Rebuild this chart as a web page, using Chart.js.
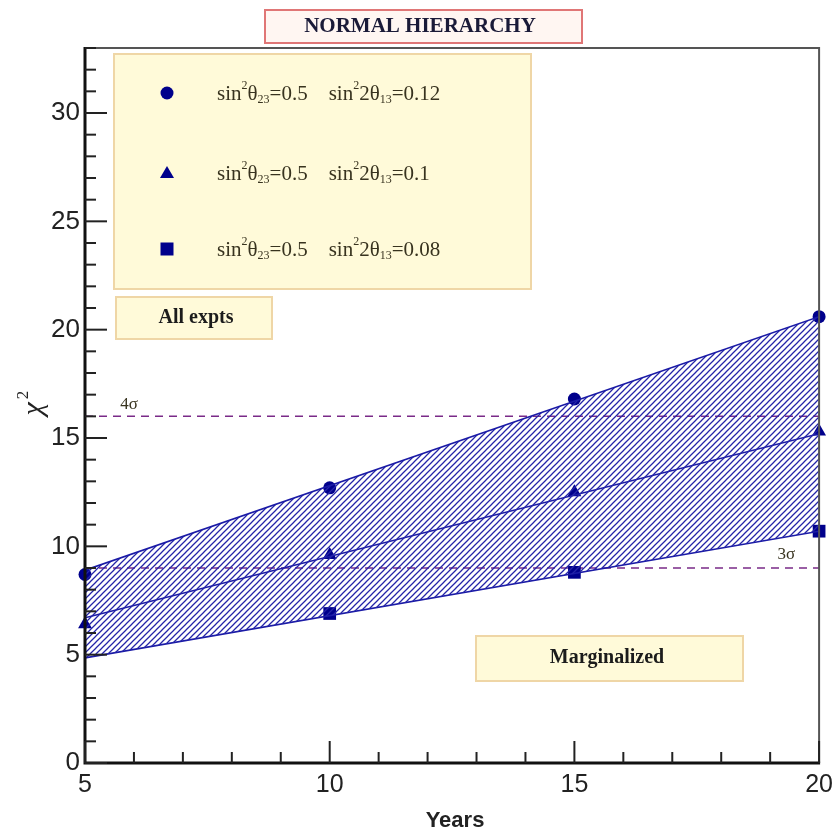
<!DOCTYPE html>
<html>
<head>
<meta charset="utf-8">
<script src="https://cdn.jsdelivr.net/npm/chart.js@4/dist/chart.umd.min.js"></script>
<style>
  html, body { margin: 0; padding: 0; background: #fff; }
  #wrap { width: 840px; height: 835px; }
</style>
</head>
<body>
<div id="wrap"><canvas id="chi2"></canvas></div>
<script>
// exposure in years
const years = [5, 10, 15, 20];

// chi^2 for the three values of sin^2 2theta13
const chi2High = [8.7, 12.7, 16.8, 20.6];
const chi2Mid = [6.4, 9.6, 12.5, 15.3];
const chi2Low = [null, 6.9, 8.8, 10.7];

// straight-line fits through each set
const fitYears = [5, 20];
const fitHigh = [8.9, 20.6];
const fitMid = [6.7, 15.2];
const fitLow = [4.85, 10.7];

// significance levels
const sigmaLevels = [16, 9];
const sigmaLabels = ['4\u03c3', '3\u03c3'];

const legendValues = ['0.12', '0.1', '0.08'];
const yTicks = [0, 5, 10, 15, 20, 25, 30];

const navy = '#00008c';
const lineBlue = '#1a1aa6';
const serif = '"Liberation Serif", "Times New Roman", serif';
const sans = '"Liberation Sans", Arial, sans-serif';

function pts(xs, ys) {
  return xs.map((x, i) => ({ x: x, y: ys[i] }));
}

function hatch() {
  const s = 6;
  const c = document.createElement('canvas');
  c.width = s; c.height = s;
  const g = c.getContext('2d');
  g.strokeStyle = '#2424a8';
  g.lineWidth = 1.25;
  g.beginPath();
  g.moveTo(0, s); g.lineTo(s, 0);
  g.moveTo(-1, 1); g.lineTo(1, -1);
  g.moveTo(s - 1, s + 1); g.lineTo(s + 1, s - 1);
  g.stroke();
  return g.createPattern(c, 'repeat');
}

function box(ctx, x, y, w, h, fill, stroke) {
  ctx.fillStyle = fill;
  ctx.fillRect(x, y, w, h);
  ctx.strokeStyle = stroke;
  ctx.lineWidth = 2;
  ctx.strokeRect(x, y, w, h);
}

// sin^2 theta_23 = 0.5   sin^2 2theta_13 = v
function legendText(ctx, x, y, v) {
  const parts = [
    ['sin', 0, 21], ['2', -8, 12], ['\u03b8', 0, 21], ['23', 6, 12],
    ['=0.5    sin', 0, 21], ['2', -8, 12], ['2\u03b8', 0, 21], ['13', 6, 12],
    ['=' + v, 0, 21]
  ];
  ctx.textAlign = 'left';
  ctx.textBaseline = 'middle';
  ctx.fillStyle = '#38331f';
  let cx = x;
  parts.forEach(p => {
    ctx.font = p[2] + 'px ' + serif;
    ctx.fillText(p[0], cx, y + p[1]);
    cx += ctx.measureText(p[0]).width;
  });
}

function marker(ctx, kind, x, y) {
  ctx.fillStyle = navy;
  ctx.beginPath();
  if (kind === 'circle') {
    ctx.arc(x, y, 6.5, 0, Math.PI * 2);
  } else if (kind === 'triangle') {
    ctx.moveTo(x, y - 7); ctx.lineTo(x + 7, y + 5); ctx.lineTo(x - 7, y + 5);
    ctx.closePath();
  } else {
    ctx.rect(x - 6.5, y - 6.5, 13, 13);
  }
  ctx.fill();
}

const decor = {
  id: 'decor',
  beforeDatasetsDraw(chart) {
    const ctx = chart.ctx;
    const xs = chart.scales.x, ys = chart.scales.y;
    ctx.save();
    box(ctx, 114, 54, 417, 235, '#fffad9', '#efd6a6');
    box(ctx, 116, 297, 156, 42, '#fffad9', '#efd6a6');
    box(ctx, 476, 636, 267, 45, '#fffad9', '#efd6a6');
    ctx.fillStyle = '#1c1c1c';
    ctx.font = 'bold 20px ' + serif;
    ctx.textAlign = 'center';
    ctx.textBaseline = 'middle';
    ctx.fillText('All expts', 196, 318);
    ctx.fillText('Marginalized', 607, 658);
    ['circle', 'triangle', 'square'].forEach((k, i) => {
      const y = [93, 173, 249][i];
      marker(ctx, k, 167, y);
      legendText(ctx, 217, y + 1, legendValues[i]);
    });

    // sigma reference lines
    ctx.strokeStyle = '#7a2a88';
    ctx.lineWidth = 1.5;
    ctx.setLineDash([8, 6]);
    sigmaLevels.forEach(v => {
      const py = ys.getPixelForValue(v);
      ctx.beginPath();
      ctx.moveTo(xs.left, py);
      ctx.lineTo(xs.right, py);
      ctx.stroke();
    });
    ctx.setLineDash([]);
    ctx.fillStyle = '#38331f';
    ctx.font = '17px ' + serif;
    ctx.textAlign = 'left';
    ctx.fillText(sigmaLabels[0], xs.getPixelForValue(5.72), ys.getPixelForValue(sigmaLevels[0]) - 12);
    ctx.fillText(sigmaLabels[1], xs.getPixelForValue(19.15), ys.getPixelForValue(sigmaLevels[1]) - 13);
    ctx.restore();
  },
  afterDatasetsDraw(chart) {
    const ctx = chart.ctx;
    const a = chart.chartArea;
    const xs = chart.scales.x, ys = chart.scales.y;
    ctx.save();
    // frame
    ctx.strokeStyle = '#555';
    ctx.lineWidth = 2;
    ctx.beginPath();
    ctx.moveTo(a.left, a.top);
    ctx.lineTo(a.right, a.top);
    ctx.lineTo(a.right, a.bottom);
    ctx.stroke();
    ctx.strokeStyle = '#111';
    ctx.lineWidth = 3;
    ctx.beginPath();
    ctx.moveTo(a.left, a.top - 1);
    ctx.lineTo(a.left, a.bottom);
    ctx.lineTo(a.right + 1, a.bottom);
    ctx.stroke();
    // inward ticks
    ctx.lineWidth = 2;
    ctx.strokeStyle = '#222';
    for (let v = 0; v <= ys.max; v++) {
      const py = ys.getPixelForValue(v);
      const len = v % 5 === 0 ? 22 : 11;
      ctx.beginPath();
      ctx.moveTo(a.left, py);
      ctx.lineTo(a.left + len, py);
      ctx.stroke();
    }
    for (let v = xs.min; v <= xs.max; v++) {
      const px = xs.getPixelForValue(v);
      const len = v % 5 === 0 ? 22 : 11;
      ctx.beginPath();
      ctx.moveTo(px, a.bottom);
      ctx.lineTo(px, a.bottom - len);
      ctx.stroke();
    }
    // titles
    box(ctx, 265, 10, 317, 33, '#fff6f2', '#e07676');
    ctx.fillStyle = '#1a1a38';
    ctx.font = 'bold 21px ' + serif;
    ctx.textAlign = 'center';
    ctx.textBaseline = 'middle';
    ctx.fillText('NORMAL HIERARCHY', 420, 27);
    ctx.fillStyle = '#222';
    ctx.font = 'bold 22px ' + sans;
    ctx.fillText('Years', 455, 821);
    ctx.translate(34, 405);
    ctx.rotate(-Math.PI / 2);
    ctx.font = 'italic 30px ' + serif;
    ctx.fillText('\u03c7', -4, 0);
    ctx.font = '17px ' + serif;
    ctx.fillText('2', 10, -10);
    ctx.restore();
  }
};

const ctx = document.getElementById('chi2');
new Chart(ctx, {
  type: 'scatter',
  data: {
    datasets: [
      {
        data: pts(fitYears, fitHigh), showLine: true, pointRadius: 0,
        borderColor: lineBlue, borderWidth: 1.6,
        backgroundColor: hatch(), fill: '+1'
      },
      {
        data: pts(fitYears, fitLow), showLine: true, pointRadius: 0,
        borderColor: lineBlue, borderWidth: 1.6
      },
      {
        data: pts(fitYears, fitMid), showLine: true, pointRadius: 0,
        borderColor: lineBlue, borderWidth: 1.6
      },
      {
        data: pts(years, chi2High), pointStyle: 'circle', pointRadius: 6.5,
        backgroundColor: navy, borderColor: navy, borderWidth: 0, clip: false
      },
      {
        data: pts(years, chi2Mid), pointStyle: 'triangle', pointRadius: 8,
        backgroundColor: navy, borderColor: navy, borderWidth: 0, clip: false
      },
      {
        data: pts(years, chi2Low), pointStyle: 'rect', pointRadius: 9,
        backgroundColor: navy, borderColor: navy, borderWidth: 0, clip: false
      }
    ]
  },
  options: {
    responsive: true,
    maintainAspectRatio: false,
    animation: false,
    events: [],
    layout: { padding: { top: 48, right: 18, left: 0, bottom: 0 } },
    plugins: { legend: { display: false }, tooltip: { enabled: false } },
    scales: {
      x: {
        type: 'linear', min: 5, max: 20,
        grid: { display: false, drawTicks: false },
        border: { display: false },
        afterBuildTicks: s => { s.ticks = years.map(v => ({ value: v })); },
        afterFit: s => { s.height = 72; },
        ticks: { color: '#222', padding: 7, maxRotation: 0, font: { family: sans, size: 25 } }
      },
      y: {
        type: 'linear', min: 0, max: 33,
        grid: { display: false, drawTicks: false },
        border: { display: false },
        afterBuildTicks: s => { s.ticks = yTicks.map(v => ({ value: v })); },
        afterFit: s => { s.width = 85; },
        ticks: { color: '#222', padding: 5, font: { family: sans, size: 26 } }
      }
    }
  },
  plugins: [decor]
});
</script>
</body>
</html>
